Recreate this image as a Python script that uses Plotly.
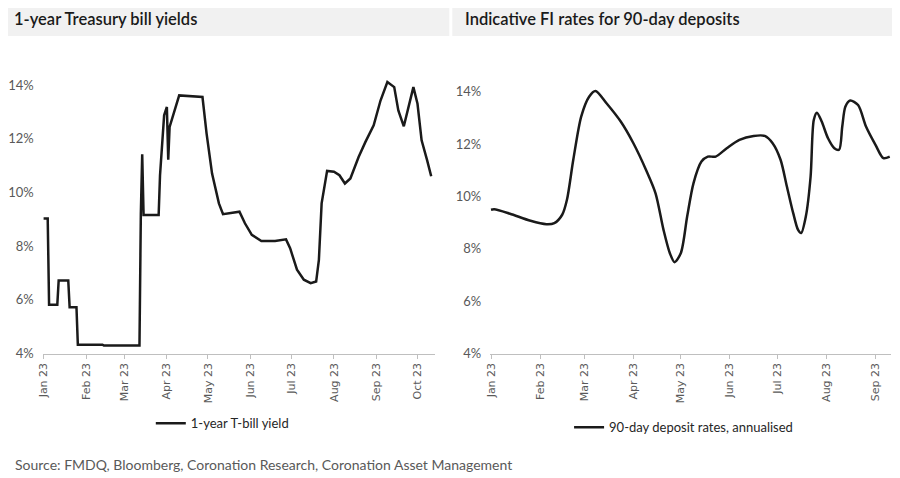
import pandas as pd
import plotly.graph_objects as go

# Left panel: 1-year T-bill yield (%), dates
tbill_dates = [
    "2023-01-01", "2023-01-04", "2023-01-05", "2023-01-11", "2023-01-12", "2023-01-19",
    "2023-01-20", "2023-01-25", "2023-01-26", "2023-02-13", "2023-02-14", "2023-03-12",
    "2023-03-13", "2023-03-14", "2023-03-15", "2023-03-16", "2023-03-26", "2023-03-27",
    "2023-03-30", "2023-04-01", "2023-04-02", "2023-04-03", "2023-04-04", "2023-04-10",
    "2023-04-27", "2023-04-30", "2023-05-04", "2023-05-09", "2023-05-12", "2023-05-19",
    "2023-05-24", "2023-05-28", "2023-06-02", "2023-06-09", "2023-06-19", "2023-06-27",
    "2023-06-30", "2023-07-05", "2023-07-10", "2023-07-15", "2023-07-19", "2023-07-21",
    "2023-07-23", "2023-07-27", "2023-08-01", "2023-08-05", "2023-08-09", "2023-08-13",
    "2023-08-19", "2023-08-24", "2023-08-30", "2023-09-04", "2023-09-09", "2023-09-14",
    "2023-09-17", "2023-09-21", "2023-09-25", "2023-09-28", "2023-10-01", "2023-10-04",
    "2023-10-08", "2023-10-11",
]
tbill_yield = [
    9.03, 9.03, 5.82, 5.82, 6.72, 6.72,
    5.72, 5.72, 4.33, 4.33, 4.30, 4.30,
    9.20, 11.42, 9.16, 9.16, 9.16, 10.64,
    12.87, 13.18, 11.22, 12.44, 12.60, 13.61,
    13.55, 12.19, 10.70, 9.59, 9.19, 9.24,
    9.28, 8.85, 8.42, 8.19, 8.19, 8.25,
    7.92, 7.12, 6.75, 6.62, 6.68, 7.49,
    9.59, 10.80, 10.77, 10.64, 10.33, 10.52,
    11.32, 11.88, 12.50, 13.42, 14.11, 13.92,
    13.05, 12.46, 13.30, 13.92, 13.30, 11.94,
    11.20, 10.60,
]

# Right panel: 90-day deposit rates, annualised (%)
deposit_dates = [
    "2023-01-01", "2023-01-03", "2023-01-13", "2023-01-26", "2023-02-05", "2023-02-10",
    "2023-02-15", "2023-02-18", "2023-02-22", "2023-02-27", "2023-03-04", "2023-03-08",
    "2023-03-15", "2023-03-24", "2023-04-01", "2023-04-09", "2023-04-15", "2023-04-20",
    "2023-04-24", "2023-04-27", "2023-05-01", "2023-05-05", "2023-05-09", "2023-05-14",
    "2023-05-18", "2023-05-23", "2023-05-30", "2023-06-07", "2023-06-16", "2023-06-23",
    "2023-06-28", "2023-07-03", "2023-07-07", "2023-07-11", "2023-07-14", "2023-07-16",
    "2023-07-19", "2023-07-22", "2023-07-24", "2023-07-26", "2023-07-29", "2023-08-02",
    "2023-08-06", "2023-08-09", "2023-08-11", "2023-08-13", "2023-08-16", "2023-08-21",
    "2023-08-26", "2023-09-01", "2023-09-06", "2023-09-10",
]
deposit_rate = [
    9.49, 9.51, 9.34, 9.07, 8.94, 8.98,
    9.30, 9.87, 11.40, 13.05, 13.81, 14.03,
    13.56, 12.86, 12.03, 11.01, 10.12, 8.73,
    7.84, 7.49, 7.84, 9.24, 10.51, 11.33,
    11.52, 11.52, 11.84, 12.16, 12.31, 12.31,
    12.03, 11.40, 10.38, 9.36, 8.73, 8.60,
    9.24, 10.76, 12.92, 13.20, 12.86, 12.22,
    11.84, 11.78, 12.67, 13.43, 13.66, 13.49,
    12.67, 11.97, 11.46, 11.52,
]

y_ticks = [4, 6, 8, 10, 12, 14]
y_tick_text = ["4%", "6%", "8%", "10%", "12%", "14%"]

titles = ["1-year Treasury bill yields", "Indicative FI rates for 90-day deposits"]
source_text = "Source: FMDQ, Bloomberg, Coronation Research, Coronation Asset Management"

# page has an 8px body margin and the snapshot comes out slightly squeezed,
# so positions (in target pixels) are mapped back through that
OFF = 8
VSCALE = 0.985
HSCALE, HSHIFT = 0.995, 5
W, H = 892, 478


def px(x):
    return ((x - HSHIFT) / HSCALE - OFF) / W


def py(y):
    return 1 - (y / VSCALE - OFF) / H


fig = go.Figure()

fig.add_trace(go.Scatter(
    x=pd.to_datetime(tbill_dates), y=tbill_yield,
    mode="lines", name="1-year T-bill yield",
    line=dict(color="#1a1a1a", width=2.5),
    xaxis="x", yaxis="y", legend="legend",
))

fig.add_trace(go.Scatter(
    x=pd.to_datetime(deposit_dates), y=deposit_rate,
    mode="lines", name="90-day deposit rates, annualised",
    line=dict(color="#1a1a1a", width=2.5, shape="spline", smoothing=0.8),
    xaxis="x2", yaxis="y2", legend="legend2",
))

axis_font = dict(family="Lato", size=13, color="#595959")
xtick_font = dict(family="DejaVu Sans", size=11, color="#595959")

common_x = dict(
    type="date", dtick="M1", tickformat="%b %y", tickangle=-90,
    showgrid=False, zeroline=False, showline=True, linecolor="#bfbfbf", linewidth=1,
    ticks="outside", ticklen=4, tickcolor="#bfbfbf", tickfont=xtick_font,
    fixedrange=True,
)
common_y = dict(
    tickvals=y_ticks, ticktext=y_tick_text, range=[4, 14.5],
    showgrid=False, zeroline=False, showline=False, ticks="",
    tickfont=axis_font, ticklabelstandoff=8, fixedrange=True,
)

legend_font = dict(family="Lato", size=13, color="#262626")

fig.update_layout(
    width=W, height=H,
    margin=dict(l=0, r=0, t=0, b=0),
    paper_bgcolor="white", plot_bgcolor="white",
    font=dict(family="Lato", color="#262626"),
    xaxis=dict(common_x, domain=[px(41.7), px(435)],
               range=["2022-12-31 08:00", "2023-10-14"], anchor="y"),
    yaxis=dict(common_y, domain=[py(354), py(85 - 0.5 * 26.95)], anchor="x"),
    xaxis2=dict(common_x, domain=[px(490), px(891)],
                range=["2022-12-31 12:00", "2023-09-10 12:00"], anchor="y2"),
    yaxis2=dict(common_y, domain=[py(354), py(78.6)], anchor="x2"),
    legend=dict(x=px(150), y=py(424), xanchor="left", yanchor="middle",
                font=legend_font, bgcolor="rgba(0,0,0,0)", itemwidth=30),
    legend2=dict(x=px(569), y=py(428), xanchor="left", yanchor="middle",
                 font=legend_font, bgcolor="rgba(0,0,0,0)", itemwidth=30),
    showlegend=True,
)

# header bands
fig.add_shape(type="rect", xref="paper", yref="paper",
              x0=px(2), x1=px(449), y0=py(36), y1=py(2),
              fillcolor="#f1f1f1", line=dict(width=0), layer="below")
fig.add_shape(type="rect", xref="paper", yref="paper",
              x0=px(452), x1=px(898), y0=py(36), y1=py(2),
              fillcolor="#f1f1f1", line=dict(width=0), layer="below")

title_font = dict(family="Lato", size=16.5, color="#1a1a1a", weight=600)
fig.add_annotation(text=titles[0], xref="paper", yref="paper",
                   x=px(11), y=py(19), xanchor="left", yanchor="middle",
                   showarrow=False, font=title_font)
fig.add_annotation(text=titles[1], xref="paper", yref="paper",
                   x=px(463), y=py(19), xanchor="left", yanchor="middle",
                   showarrow=False, font=title_font)

fig.add_annotation(text=source_text, xref="paper", yref="paper",
                   x=px(12), y=py(465), xanchor="left", yanchor="middle",
                   showarrow=False, font=dict(family="Lato", size=14, color="#595959"))

fig.write_html("out.html")
